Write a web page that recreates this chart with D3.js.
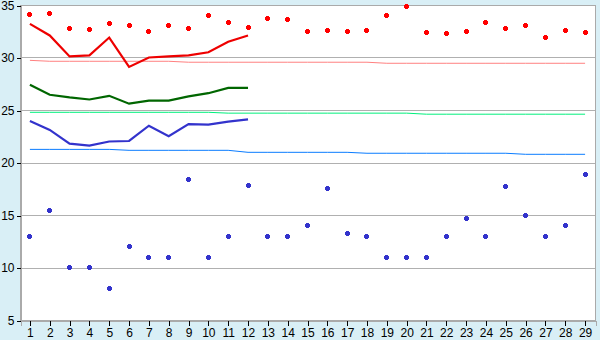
<!DOCTYPE html>
<html>
<head lang="en">
  <meta charset="UTF-8">
  <title>Series chart</title>
</head>
<style>
  body { margin: 0; background: #d9eff6; }
  #chart .grid line { stroke: #b0b0b0; shape-rendering: crispEdges; }
  #chart .axis path, #chart .axis line { shape-rendering: crispEdges; }
</style>
<body>

<svg id="chart"></svg>

<script src="https://cdn.jsdelivr.net/npm/d3@7"></script>
<script>
  // Data
  var categories = d3.range(1, 30);
  var yTicks = [5, 10, 15, 20, 25, 30, 35];

  var redPoints = [34.1, 34.2, 32.8, 32.7, 33.2, 33.0, 32.5, 33.0, 32.8, 34.0,
                   33.3, 32.9, 33.7, 33.6, 32.5, 32.6, 32.5, 32.6, 34.0, 34.9,
                   32.4, 32.3, 32.5, 33.3, 32.8, 33.0, 31.9, 32.6, 32.4];
  var redLine = [33.2, 32.1, 30.1, 30.2, 31.9, 29.1, 30.0, 30.1, 30.2, 30.5, 31.5, 32.1];
  var salmonLine = [29.73, 29.64, 29.64, 29.64, 29.64, 29.64, 29.64, 29.64, 29.55, 29.55,
                    29.55, 29.55, 29.55, 29.55, 29.55, 29.55, 29.55, 29.55, 29.45, 29.45,
                    29.45, 29.45, 29.45, 29.45, 29.45, 29.45, 29.45, 29.45, 29.45];
  var greenLine = [27.4, 26.45, 26.2, 26.0, 26.35, 25.6, 25.9, 25.9, 26.3, 26.6, 27.1, 27.1];
  var springLine = [24.78, 24.78, 24.78, 24.78, 24.78, 24.78, 24.78, 24.78, 24.78, 24.78,
                    24.7, 24.7, 24.7, 24.7, 24.7, 24.7, 24.7, 24.7, 24.7, 24.7,
                    24.6, 24.6, 24.6, 24.6, 24.6, 24.6, 24.6, 24.6, 24.6];
  var blueLine = [23.95, 23.1, 21.8, 21.6, 22.0, 22.05, 23.5, 22.5, 23.65, 23.6, 23.9, 24.1];
  var skyLine = [21.25, 21.25, 21.25, 21.25, 21.25, 21.16, 21.16, 21.16, 21.16, 21.16,
                 21.16, 20.97, 20.97, 20.97, 20.97, 20.97, 20.97, 20.88, 20.88, 20.88,
                 20.88, 20.88, 20.88, 20.88, 20.88, 20.78, 20.78, 20.78, 20.78];
  var bluePoints = [13, 15.45, 10, 10, 8, 12, 11, 11, 18.4, 11,
                    13, 17.8, 13, 13, 14, 17.55, 13.2, 13, 11, 11,
                    11, 13, 14.7, 13, 17.75, 15, 13, 14, 18.9];

  var width = 600, height = 340;
  var plotLeft = 20, plotRight = 595, plotTop = 5, plotBottom = 320;
  var labelFont = '"Liberation Sans", Arial, sans-serif';

  var svg = d3.select('#chart').attr('width', width).attr('height', height)
    .style('display', 'block');

  var x = d3.scaleBand().domain(categories).range([plotLeft, plotRight]);
  var y = d3.scaleLinear().domain([5, 35]).range([plotBottom, plotTop]);

  function cx(d, i) { return x(categories[i]) + x.bandwidth() / 2; }

  // plot background
  svg.append('rect')
    .attr('x', plotLeft + 0.5).attr('y', plotTop + 0.5)
    .attr('width', plotRight - plotLeft).attr('height', plotBottom - plotTop)
    .attr('fill', '#fff')
    .attr('stroke', '#aaa')
    .attr('shape-rendering', 'crispEdges');

  // grid
  svg.append('g').attr('class', 'grid')
    .selectAll('line')
    .data(yTicks.slice(1, -1))
    .enter().append('line')
    .attr('x1', plotLeft).attr('x2', plotRight)
    .attr('y1', function(d) { return Math.round(y(d)) + 0.5; })
    .attr('y2', function(d) { return Math.round(y(d)) + 0.5; });

  // axes
  svg.append('g').attr('class', 'axis')
    .attr('transform', 'translate(' + (plotLeft + 0.5) + ',0.5)')
    .call(d3.axisLeft(y).tickValues(yTicks).tickSize(4).tickPadding(2));

  svg.append('g').attr('class', 'axis')
    .attr('transform', 'translate(0.5,' + (plotBottom + 0.5) + ')')
    .call(d3.axisBottom(x).tickSize(5).tickPadding(3));

  svg.selectAll('.axis path').attr('stroke', '#aaa');
  svg.selectAll('.axis line').attr('stroke', '#000');
  svg.selectAll('.axis text').attr('fill', '#000')
    .style('font-family', labelFont).style('font-size', '12px');

  // lines
  function drawLine(data, color, w) {
    var line = d3.line()
      .x(function(d, i) { return cx(d, i); })
      .y(function(d) { return y(d); });
    svg.append('path')
      .datum(data)
      .attr('d', line)
      .attr('fill', 'none')
      .attr('stroke', color)
      .attr('stroke-width', w);
  }

  drawLine(salmonLine, '#ff8080', 1);
  drawLine(springLine, '#00f07c', 1);
  drawLine(skyLine, '#0a7cff', 1);
  drawLine(redLine, '#ee0000', 2.2);
  drawLine(greenLine, '#006600', 2.2);
  drawLine(blueLine, '#3333cc', 2.2);

  // markers: small plus-diamonds
  function drawPoints(data, color) {
    var g = svg.append('g').attr('fill', color).attr('shape-rendering', 'crispEdges');
    var pts = g.selectAll('g').data(data).enter().append('g')
      .attr('transform', function(d, i) {
        return 'translate(' + Math.floor(cx(d, i)) + ',' + Math.floor(y(d)) + ')';
      });
    pts.append('rect').attr('x', -1).attr('y', -2).attr('width', 3).attr('height', 5);
    pts.append('rect').attr('x', -2).attr('y', -1).attr('width', 5).attr('height', 3);
  }

  drawPoints(redPoints, '#ff0000');
  drawPoints(bluePoints, '#3333cc');
</script>
</body>
</html>
